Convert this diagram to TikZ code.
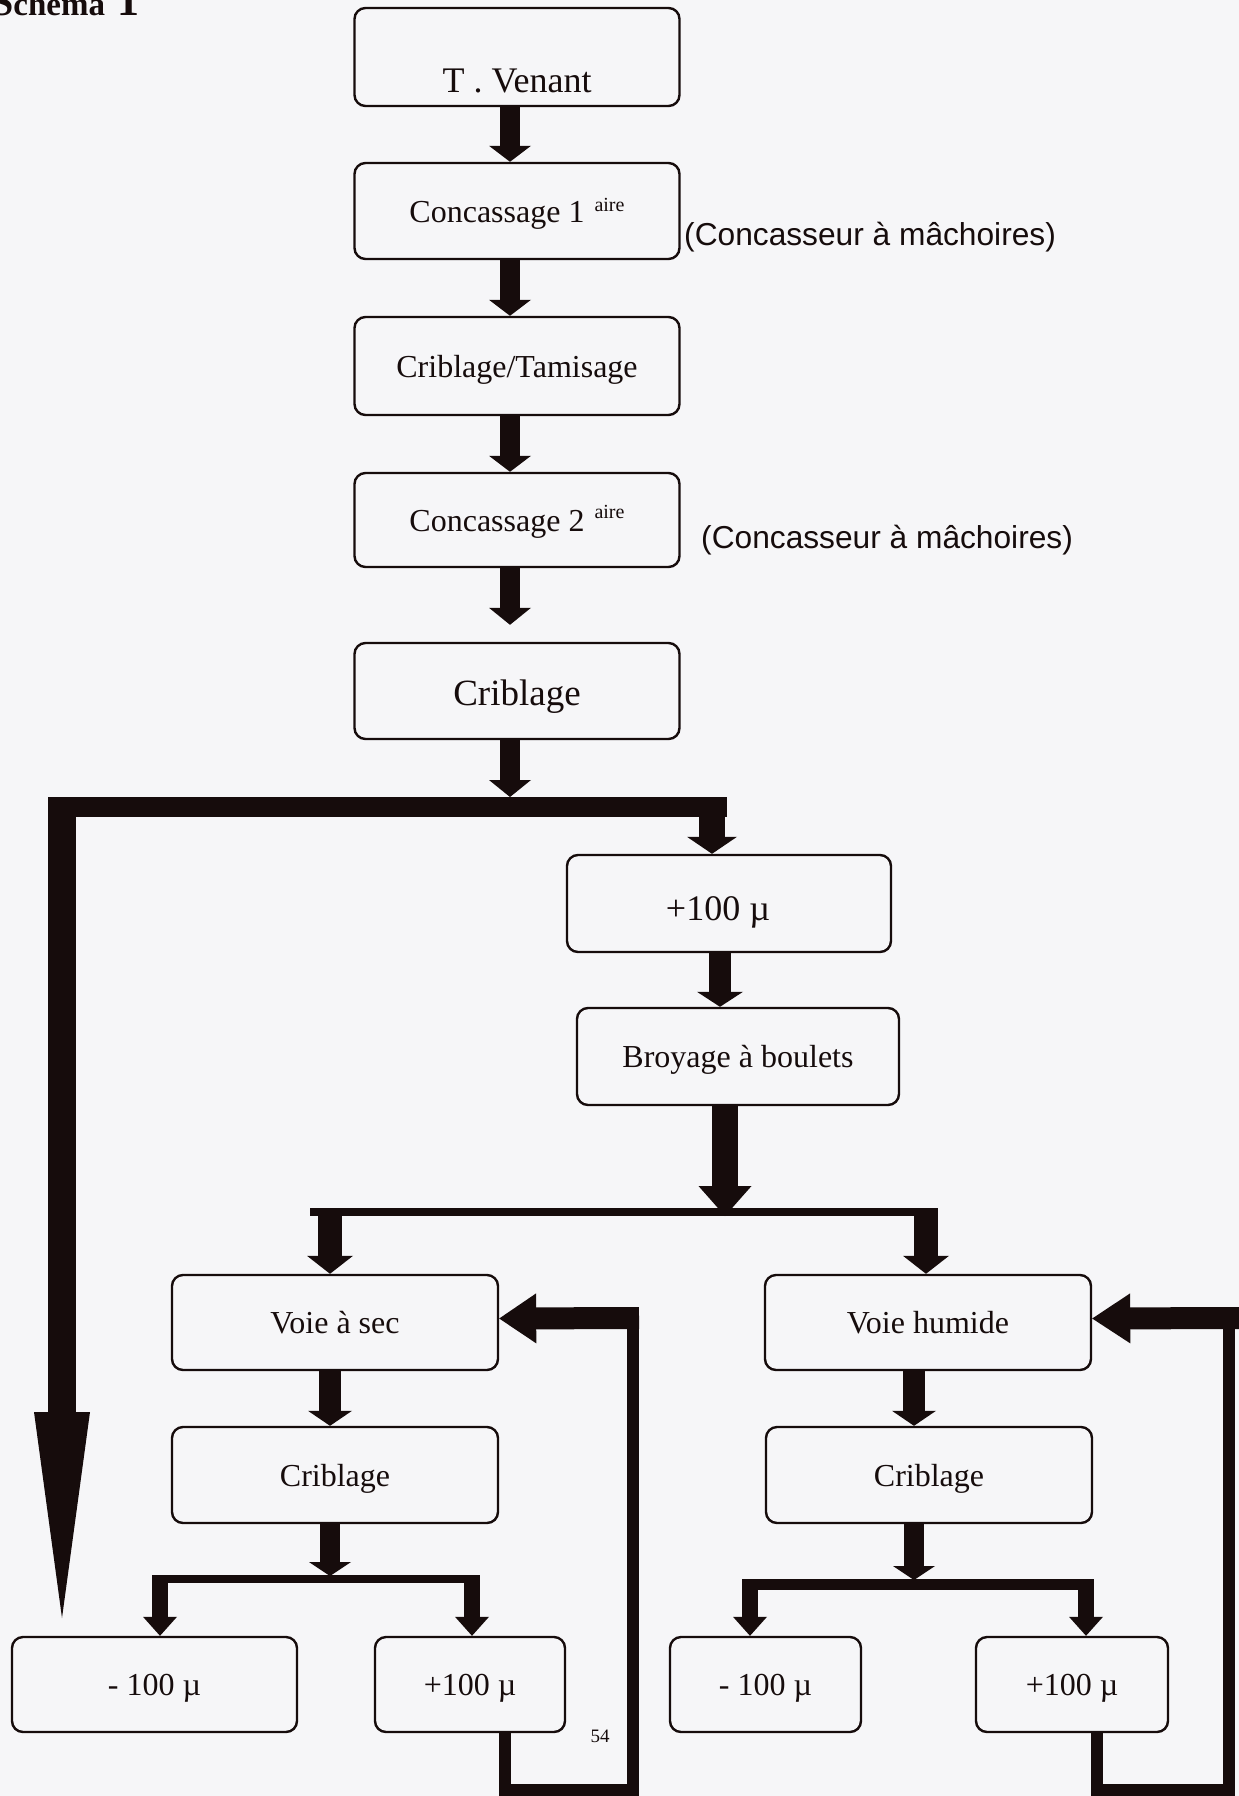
\documentclass[tikz,border=0pt]{standalone}
\usepackage{fontspec}
\setmainfont{Liberation Serif}
\newfontfamily\annfont{Liberation Sans}
\usetikzlibrary{arrows.meta,calc}
\definecolor{paper}{RGB}{246,246,248}
\definecolor{ink}{RGB}{22,12,12}
\begin{document}
\begin{tikzpicture}[x=1pt,y=-1pt,
  box/.style={draw=ink, line width=2.4pt, rounded corners=11pt, inner sep=0pt, text=ink,
    font=\fontsize{32}{38}\selectfont, text height=22pt, text depth=0pt},
  blk/.style n args={3}{draw=ink, line width=#1, -{Triangle[width=#2, length=#3, line width=0pt]}},
  hbar/.style={draw=ink, line width=#1},
  ret/.style={draw=ink, line width=12pt, line join=miter},
  ann/.style={inner sep=0pt, text=ink, font=\annfont\fontsize{31.7}{36}\selectfont},
]
\useasboundingbox (0,0) rectangle (1239,1796);
\fill[paper] (0,0) rectangle (1239,1796);

% title
\node[anchor=base west, inner sep=0pt, text=ink, font=\bfseries] (title) at (-9,16)
  {{\fontsize{40}{40}\selectfont S}{\fontsize{33}{33}\selectfont ch\'ema}\hspace{12pt}{\fontsize{44}{44}\selectfont 1}};

% main column
\node[box, minimum width=325pt, minimum height=98pt, font=\fontsize{36}{40}\selectfont, text height=70pt] (tv) at (517,57) {T . Venant};
\node[box, minimum width=325pt, minimum height=96pt] (c1) at (517,211)
  {Concassage 1\hspace{10pt}\raisebox{11pt}{\fontsize{20}{20}\selectfont aire}};
\node[box, minimum width=325pt, minimum height=98pt] (ct) at (517,366) {Criblage/Tamisage};
\node[box, minimum width=325pt, minimum height=94pt] (c2) at (517,520)
  {Concassage 2\hspace{10pt}\raisebox{13pt}{\fontsize{20}{20}\selectfont aire}};
\node[box, minimum width=325pt, minimum height=96pt, font=\fontsize{37}{42}\selectfont, text height=28pt] (cr) at (517,691) {Criblage};

\node[ann, anchor=base west] (n1) at (684,245) {(Concasseur \`a m\^achoires)};
\node[ann, anchor=base west] (n2) at (701,548) {(Concasseur \`a m\^achoires)};

\draw[blk={20pt}{42pt}{16pt}] ($(tv.south)+(-7,0)$) -- ($(c1.north)+(-7,0)$);
\draw[blk={20pt}{42pt}{16pt}] ($(c1.south)+(-7,0)$) -- ($(ct.north)+(-7,0)$);
\draw[blk={20pt}{42pt}{16pt}] ($(ct.south)+(-7,0)$) -- ($(c2.north)+(-7,0)$);
\draw[blk={20pt}{42pt}{17pt}] ($(c2.south)+(-7,0)$) -- ($(cr.north)+(-7,-17)$);

% first split
\coordinate (j1) at (510,797);
\coordinate (b1L) at (48,807);
\coordinate (b1R) at (727,807);
\coordinate (lt) at (62,797);
\coordinate (ltip) at (62,1618);
\coordinate (rt) at (712,797);
\draw[blk={20pt}{42pt}{17pt}] ($(cr.south)+(-7,0)$) -- (j1);
\draw[hbar=20pt] (b1L) -- (b1R);
\draw[blk={28pt}{56pt}{206pt}] (lt) -- (ltip);

\node[box, minimum width=324pt, minimum height=97pt, font=\fontsize{36}{40}\selectfont, text height=33pt] (p1) at (729,903.5) {+100 \textmu\hspace*{22pt}};
\node[box, minimum width=322pt, minimum height=97pt] (br) at (738,1056.5) {Broyage \`a boulets};
\draw[blk={26pt}{50pt}{17pt}] (rt) -- ($(p1.north)+(-17,0)$);
\draw[blk={22pt}{46pt}{15pt}] ($(p1.south)+(-9,0)$) -- ($(br.north)+(-18,0)$);

% second split
\coordinate (j2) at (725,1216);
\coordinate (b2L) at (310,1212);
\coordinate (b2R) at (938,1212);
\coordinate (b2l) at (330,1212);
\coordinate (b2r) at (926,1212);
\draw[blk={26pt}{53pt}{30pt}] ($(br.south)+(-13,0)$) -- (j2);
\draw[hbar=8pt] (b2L) -- (b2R);

\node[box, minimum width=326pt, minimum height=95pt] (vs) at (335,1322.5) {Voie \`a sec};
\node[box, minimum width=326pt, minimum height=95pt] (vh) at (928,1322.5) {Voie humide};
\draw[blk={24pt}{46pt}{18pt}] (b2l) -- ($(vs.north)+(-5,0)$);
\draw[blk={24pt}{46pt}{18pt}] (b2r) -- ($(vh.north)+(-2,0)$);

\node[box, minimum width=326pt, minimum height=96pt] (cl) at (335,1475) {Criblage};
\node[box, minimum width=326pt, minimum height=96pt] (crr) at (929,1475) {Criblage};
\draw[blk={22pt}{44pt}{15pt}] ($(vs.south)+(-5,0)$) -- ($(cl.north)+(-5,0)$);
\draw[blk={22pt}{44pt}{15pt}] ($(vh.south)+(-14,0)$) -- ($(crr.north)+(-15,0)$);

% bottom splits
\coordinate (j3) at (330,1576);
\coordinate (b3L) at (152,1579);
\coordinate (b3R) at (480,1579);
\coordinate (b3l) at (160,1579);
\coordinate (b3r) at (472,1579);
\draw[blk={20pt}{42pt}{14pt}] ($(cl.south)+(-5,0)$) -- (j3);
\draw[hbar=8pt] (b3L) -- (b3R);

\coordinate (j4) at (914,1580);
\coordinate (b4L) at (742,1584.5);
\coordinate (b4R) at (1094,1584.5);
\coordinate (b4l) at (750,1584.5);
\coordinate (b4r) at (1086,1584.5);
\draw[blk={20pt}{42pt}{14pt}] ($(crr.south)+(-15,0)$) -- (j4);
\draw[hbar=11pt] (b4L) -- (b4R);

\node[box, minimum width=285pt, minimum height=95pt] (m1) at (154.5,1684.5) {- 100 \textmu};
\node[box, minimum width=190pt, minimum height=95pt] (p2) at (470,1684.5) {+100 \textmu};
\node[box, minimum width=191pt, minimum height=95pt] (m2) at (765.5,1684.5) {- 100 \textmu};
\node[box, minimum width=192pt, minimum height=95pt] (p3) at (1072,1684.5) {+100 \textmu};

\draw[blk={16pt}{34pt}{19pt}] (b3l) -- ($(m1.north)+(5.5,0)$);
\draw[blk={16pt}{34pt}{19pt}] (b3r) -- ($(p2.north)+(2,0)$);
\draw[blk={16pt}{34pt}{19pt}] (b4l) -- ($(m2.north)+(-15.5,0)$);
\draw[blk={16pt}{34pt}{19pt}] (b4r) -- ($(p3.north)+(14,0)$);

% recycle loops
\draw[ret] ($(p2.south)+(35,0)$) -- (505,1790) -- (633,1790) -- (633,1307);
\coordinate (f1) at (639,1318);
\draw[blk={22pt}{50pt}{37pt}] (f1) -- ($(vs.east)+(0,-4)$);

\draw[ret] ($(p3.south)+(25,0)$) -- (1097,1790) -- (1229,1790) -- (1229,1307);
\coordinate (f2) at (1239,1318);
\draw[blk={22pt}{50pt}{38pt}] (f2) -- ($(vh.east)+(0,-4)$);

\node[inner sep=0pt, anchor=base, text=ink, font=\fontsize{19}{21}\selectfont] (pg) at (600,1742) {54};
\end{tikzpicture}
\end{document}
